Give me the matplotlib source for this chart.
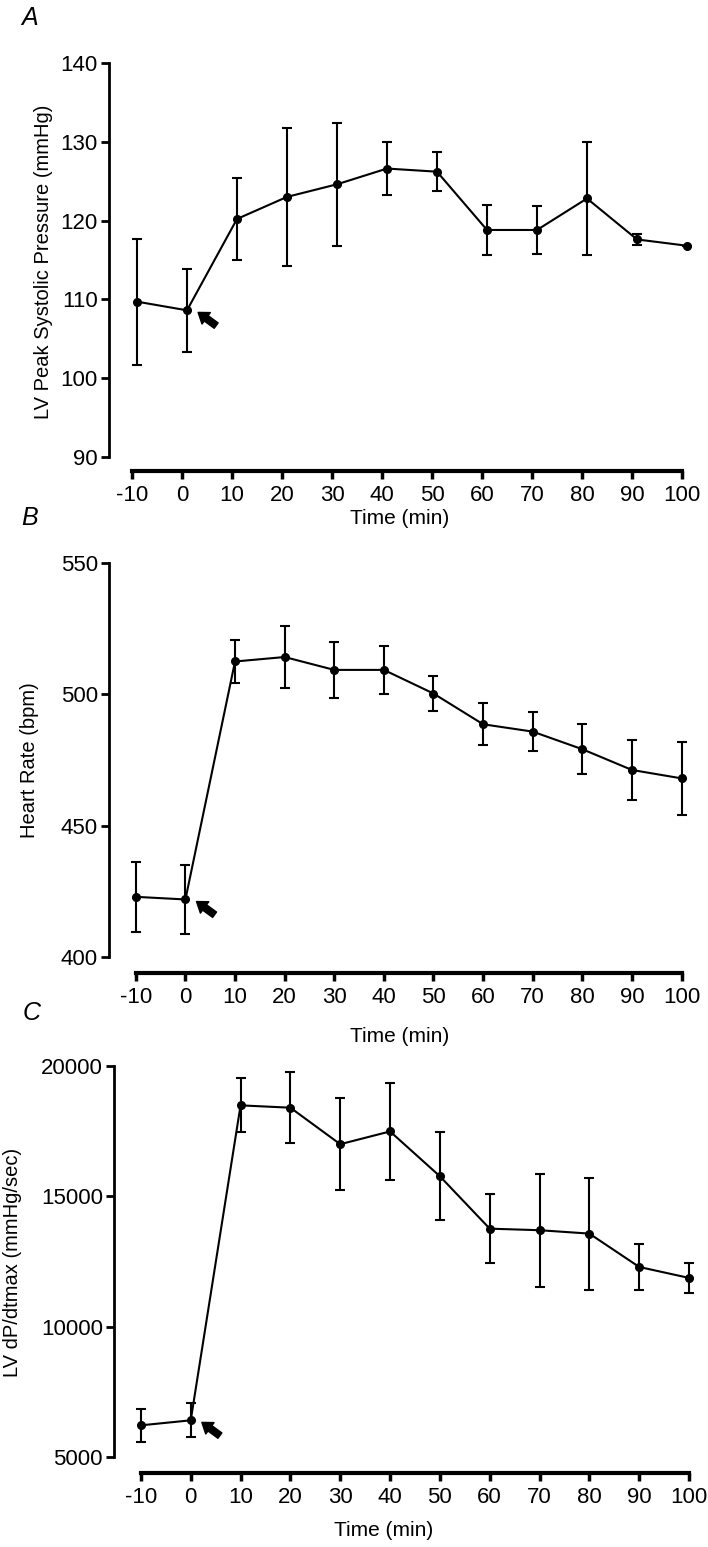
import matplotlib
matplotlib.use("Agg")
import matplotlib.pyplot as plt
from matplotlib.text import OffsetFrom

plt.rcParams["axes.unicode_minus"] = False

# ---- data ----
time_a = [-9, 1, 11, 21, 31, 41, 51, 61, 71, 81, 91, 101]
lvsp = [109.7, 108.6, 120.2, 123.0, 124.6, 126.6, 126.2, 118.8, 118.8, 122.8, 117.6, 116.8]
lvsp_err = [8.0, 5.3, 5.2, 8.8, 7.8, 3.4, 2.5, 3.2, 3.0, 7.2, 0.7, 0.0]

time_b = [-10, 0, 10, 20, 30, 40, 50, 60, 70, 80, 90, 100]
hr = [422.9, 421.9, 512.5, 514.2, 509.3, 509.3, 500.3, 488.6, 485.8, 479.1, 471.2, 468.0]
hr_err = [13.2, 13.0, 8.3, 11.9, 10.8, 9.0, 6.7, 8.0, 7.4, 9.6, 11.4, 13.8]

time_c = [-10, 0, 10, 20, 30, 40, 50, 60, 70, 80, 90, 100]
dpdt = [6215, 6407, 18490, 18400, 17000, 17490, 15770, 13760, 13700, 13570, 12290, 11870]
dpdt_err = [630, 650, 1040, 1360, 1770, 1850, 1680, 1320, 2170, 2150, 900, 590]

xticks = [-10, 0, 10, 20, 30, 40, 50, 60, 70, 80, 90, 100]

W, H = 708, 1547
fig = plt.figure(figsize=(W / 100, H / 100), dpi=100)
tick_font = ["Liberation Sans Narrow", "Liberation Sans", "DejaVu Sans"]
label_font = ["Liberation Sans", "DejaVu Sans"]


def px_axes(left, right, top, bottom):
    return fig.add_axes([left / W, 1 - bottom / H, (right - left) / W, (bottom - top) / H])


def panel(ax, t, y, err, xlim, ylim, yticks):
    ax.errorbar(t, y, yerr=err, color="black", lw=1.5, marker="o", ms=5.5,
                elinewidth=1.5, capsize=3.5, capthick=1.5)
    ax.set_xlim(*xlim)
    ax.set_ylim(*ylim)
    ax.set_xticks(xticks)
    ax.set_yticks(yticks)
    for s in ["top", "right"]:
        ax.spines[s].set_visible(False)
    ax.spines["left"].set_bounds(yticks[0], yticks[-1])
    ax.spines["bottom"].set_bounds(xticks[0], xticks[-1])
    ax.spines["left"].set_linewidth(2.0)
    ax.spines["bottom"].set_linewidth(3.0)
    ax.tick_params(axis="y", direction="out", length=6, width=2.0, pad=2)
    ax.tick_params(axis="x", direction="out", length=6, width=2.5, pad=4)
    for lab in ax.get_xticklabels() + ax.get_yticklabels():
        lab.set_family(tick_font)
        lab.set_fontsize(16)
    # arrow marking the intervention, placed next to the time-0 point
    ref = OffsetFrom(ax.transData, (t[1], y[1]), unit="points")
    ax.annotate("", xy=(8, -1.5), xycoords=ref, xytext=(21, -11), textcoords=ref,
                arrowprops=dict(arrowstyle="simple,head_length=0.6,head_width=0.85,tail_width=0.4",
                                fc="black", ec="black", shrinkA=0, shrinkB=0,
                                mutation_scale=12))


axA = px_axes(109, 692, 63, 471)
panel(axA, time_a, lvsp, lvsp_err, (-14.6, 102), (88.2, 140), [90, 100, 110, 120, 130, 140])

axB = px_axes(109, 692, 563, 973)
panel(axB, time_b, hr, hr_err, (-15.4, 102.1), (393.9, 550), [400, 450, 500, 550])

axC = px_axes(114, 700, 1066, 1473)
panel(axC, time_c, dpdt, dpdt_err, (-15.4, 102.2), (4386, 20000), [5000, 10000, 15000, 20000])


def ftext(x, y, s, **kw):
    fig.text(x / W, 1 - y / H, s, ha="center", va="center", **kw)


ftext(30, 18, "A", fontsize=18, style="italic", family=label_font)
ftext(30, 518, "B", fontsize=18, style="italic", family=label_font)
ftext(32, 1013, "C", fontsize=18, style="italic", family=label_font)

ftext(400, 519, "Time (min)", fontsize=15, family=tick_font)
ftext(400, 1037, "Time (min)", fontsize=15, family=tick_font)
ftext(384, 1530, "Time (min)", fontsize=15, family=tick_font)

ftext(44, 262, "LV Peak Systolic Pressure (mmHg)", fontsize=14.5, rotation=90, family=label_font)
ftext(30, 760, "Heart Rate (bpm)", fontsize=14.5, rotation=90, family=label_font)
ftext(13, 1262, "LV dP/dtmax (mmHg/sec)", fontsize=14.5, rotation=90, family=label_font)

fig.savefig("out.png", dpi=100)
